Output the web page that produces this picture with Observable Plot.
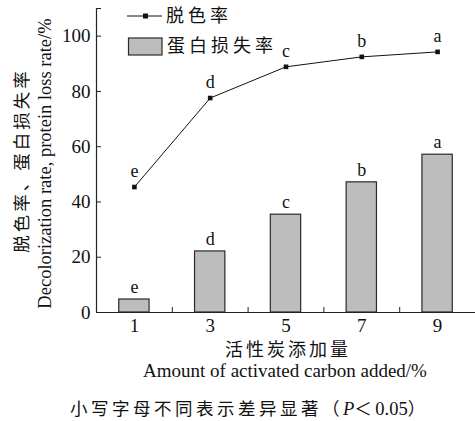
<!DOCTYPE html>
<html>
<head>
<meta charset="utf-8">
<script src="https://cdn.jsdelivr.net/npm/d3@7"></script>
<script src="https://cdn.jsdelivr.net/npm/@observablehq/plot@0.6"></script>
<style>
  html, body { margin: 0; padding: 0; background: #fff; }
  #wrap { position: relative; width: 475px; height: 421px; font-family: "Liberation Serif", "Noto Sans CJK SC", serif; color: #111; }
  #legend { position: absolute; left: 0; top: 0; pointer-events: none; }
  #caption { position: absolute; left: 70px; top: 395px; font-size: 18.5px; white-space: nowrap; font-family: "Liberation Serif", serif; }
  #caption .zh { font-family: "Noto Sans CJK SC", sans-serif; letter-spacing: 3.5px; font-size: 17.5px; }
</style>
</head>
<body>
<div id="wrap"></div>
<script>
// ---- data ----
const amounts = [1, 3, 5, 7, 9];
const decolorRate = [45.4, 77.6, 88.9, 92.5, 94.3];
const proteinLoss = [4.7, 22.1, 35.4, 47.1, 57.1];
const decolorSig = ["e", "d", "c", "b", "a"];
const lossSig = ["e", "d", "c", "b", "a"];
const xTickLabels = [1, 3, 5, 7, 9];
const xMinorTicks = [2, 4, 6, 8, 10];
const yTickLabels = [0, 20, 40, 60, 80, 100];
const yTickMarks = [0, 20, 40, 60, 80, 100, 110];
const seriesNames = ["脱色率", "蛋白损失率"];
const xTitleZh = "活性炭添加量";
const xTitleEn = "Amount of activated carbon added/%";
const yTitleZh = "脱色率、蛋白损失率";
const yTitleEn = "Decolorization rate, protein loss rate/%";

const rows = amounts.map((a, i) => ({
  x: a, decolor: decolorRate[i], loss: proteinLoss[i],
  dSig: decolorSig[i], lSig: lossSig[i]
}));

const serif = "Liberation Serif, Noto Sans CJK SC, serif";
const cjk = "Noto Sans CJK SC, sans-serif";

const chart = Plot.plot({
  width: 475,
  height: 421,
  marginLeft: 96,
  marginRight: 0,
  marginTop: 8,
  marginBottom: 109,
  style: { fontFamily: serif, fontSize: "18px", color: "#111", background: "#fff", overflow: "visible" },
  x: { domain: [0, 10], axis: null },
  y: { domain: [0, 110], axis: null },
  marks: [
    Plot.rect(rows, { x1: d => d.x - 0.4, x2: d => d.x + 0.4, y1: 0, y2: "loss", fill: "#bdbdbd", stroke: "#2a2a2a", strokeWidth: 1.2 }),
    Plot.ruleY([0], { stroke: "#222", strokeWidth: 1.2 }),
    Plot.ruleX([0], { stroke: "#222", strokeWidth: 1.2 }),
    Plot.axisY({ ticks: yTickMarks, tickSize: -5, tickFormat: () => "", stroke: "#222", label: null }),
    Plot.axisY({ ticks: yTickLabels, tickSize: 0, tickPadding: 6, fontSize: 19, fill: "#111", label: null }),
    Plot.axisX({ ticks: xMinorTicks, tickSize: -5, tickFormat: () => "", stroke: "#222", label: null }),
    Plot.axisX({ ticks: xTickLabels, tickSize: 0, tickPadding: 6, fontSize: 19, fill: "#111", label: null }),
    Plot.line(rows, { x: "x", y: "decolor", stroke: "#111", strokeWidth: 1 }),
    Plot.dot(rows, { x: "x", y: "decolor", symbol: "square", r: 2.6, fill: "#111", stroke: "none" }),
    Plot.text(rows, { x: "x", y: "decolor", text: "dSig", dy: -16, fontSize: 18, fill: "#111" }),
    Plot.text(rows, { x: "x", y: "loss", text: "lSig", dy: -12, fontSize: 18, fill: "#111" }),
    // axis titles
    Plot.text([xTitleZh], { frameAnchor: "bottom", dx: 2, dy: 43, text: d => d, fontFamily: cjk, fontSize: 18, fill: "#111", className: "zhtitle" }),
    Plot.text([xTitleEn], { frameAnchor: "bottom", dx: -1, dy: 64, text: d => d, fontSize: 19, fill: "#111" }),
    Plot.text([yTitleZh], { frameAnchor: "left", textAnchor: "middle", dx: -74, dy: 0, rotate: -90, text: d => d, fontFamily: cjk, fontSize: 17.5, fill: "#111", className: "zhtitle" }),
    Plot.text([yTitleEn], { frameAnchor: "left", textAnchor: "middle", dx: -51, dy: 3, rotate: -90, text: d => d, fontSize: 18.5, fill: "#111" })
  ]
});

// widen spacing of the Chinese titles (Song-style spacing in the reference)
d3.select(chart).selectAll("g.zhtitle text").style("letter-spacing", "3px");

const wrap = document.getElementById("wrap");
wrap.appendChild(chart);

// legend overlay
const ns = "http://www.w3.org/2000/svg";
const lg = document.createElementNS(ns, "svg");
lg.setAttribute("id", "legend");
lg.setAttribute("width", 475);
lg.setAttribute("height", 70);
lg.innerHTML = `
  <line x1="127" y1="16" x2="162" y2="16" stroke="#111" stroke-width="1"/>
  <rect x="143" y="13.5" width="5" height="5" fill="#111"/>
  <text x="166" y="16" dy="0.36em" font-family="Noto Sans CJK SC" font-size="18" letter-spacing="4" fill="#111">${seriesNames[0]}</text>
  <rect x="128.5" y="38" width="33.5" height="17" fill="#bdbdbd" stroke="#2a2a2a" stroke-width="1.2"/>
  <text x="167" y="46" dy="0.36em" font-family="Noto Sans CJK SC" font-size="18" letter-spacing="4" fill="#111">${seriesNames[1]}</text>
`;
wrap.appendChild(lg);

const cap = document.createElement("div");
cap.id = "caption";
cap.innerHTML = '<span class="zh">小写字母不同表示差异显著（</span><i>P</i><span class="zh">＜</span>0.05<span class="zh">）</span>';
wrap.appendChild(cap);
</script>
</body>
</html>
